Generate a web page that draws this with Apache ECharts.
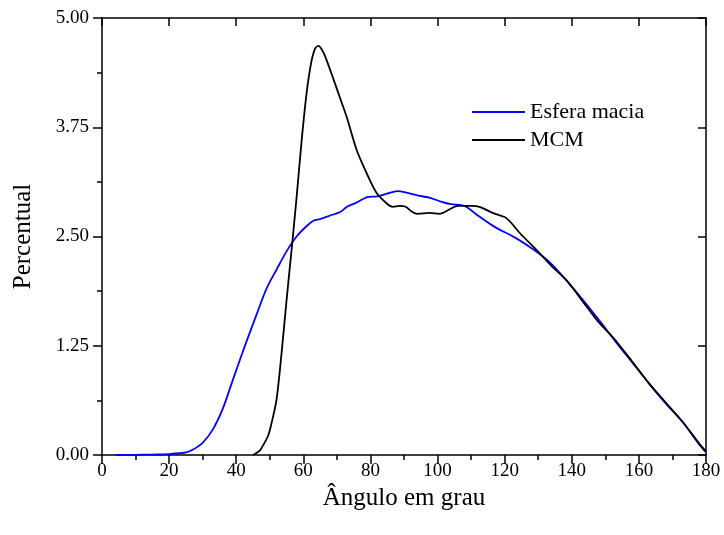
<!DOCTYPE html>
<html>
<head>
<meta charset="utf-8">
<script src="https://cdn.jsdelivr.net/npm/echarts@6/dist/echarts.min.js"></script>
<style>
    html, body { margin: 0; padding: 0; background: #fff; }
    #chart { width: 724px; height: 535px; }
</style>
</head>
<body>
<div id="chart"></div>
<script>

// Data
// ------------------------------

var anguloEsfera = [4, 10, 15, 20, 23, 25, 27, 30, 33, 36, 39, 42.5, 46, 49, 52, 55, 58, 61, 63, 65, 68, 71, 73, 76, 79, 82, 85, 88, 91, 94, 98, 101, 104, 108, 112, 117, 123, 129, 133, 136, 141, 148, 153, 158, 163, 168, 173, 178, 180];
var valoresEsfera = [0, 0.002, 0.005, 0.01, 0.02, 0.03, 0.06, 0.14, 0.29, 0.53, 0.86, 1.24, 1.6, 1.9, 2.12, 2.33, 2.5, 2.62, 2.68, 2.7, 2.74, 2.78, 2.84, 2.89, 2.95, 2.96, 2.99, 3.02, 3.0, 2.97, 2.94, 2.9, 2.87, 2.85, 2.74, 2.61, 2.49, 2.34, 2.22, 2.1, 1.88, 1.55, 1.3, 1.06, 0.82, 0.59, 0.38, 0.12, 0.03];

var anguloMCM = [45, 47, 48, 49.5, 50.5, 52, 53.5, 55, 56.5, 58, 59.5, 61, 62.4, 63.5, 64.5, 65.5, 66.5, 68.7, 70.8, 72.9, 75.9, 78.8, 81.8, 84.8, 86.6, 88.7, 90.5, 92.5, 94, 97.6, 100.6, 103.6, 106, 110, 112.5, 116.4, 120.5, 124.5, 130.4, 134, 138.4, 144.4, 148, 152.2, 158, 163, 168, 173, 178, 180];
var valoresMCM = [0, 0.05, 0.11, 0.22, 0.36, 0.63, 1.16, 1.77, 2.35, 2.95, 3.6, 4.15, 4.5, 4.65, 4.68, 4.64, 4.56, 4.33, 4.1, 3.87, 3.49, 3.23, 3.0, 2.88, 2.84, 2.85, 2.84, 2.78, 2.76, 2.77, 2.76, 2.81, 2.85, 2.85, 2.84, 2.77, 2.71, 2.54, 2.31, 2.16, 2.0, 1.7, 1.52, 1.35, 1.07, 0.82, 0.6, 0.38, 0.13, 0.04];

var nomesSeries = ['Esfera macia', 'MCM'];

function pares(xs, ys) {
    var out = [];
    for (var i = 0; i < xs.length; i++) {
        out.push([xs[i], ys[i]]);
    }
    return out;
}

var fonte = '"Liberation Serif", "Times New Roman", serif';
var chart = echarts.init(document.getElementById('chart'));

// Axis styling shared by the frame
var linhaEixo = { show: true, onZero: false, lineStyle: { color: '#000', width: 1.5 } };

chart.setOption({
    animation: false,
    color: ['#0000ff', '#000000'],
    textStyle: { fontFamily: fonte },
    grid: { left: 102, right: 18, top: 18, bottom: 80 },

    legend: {
        data: [
            { name: nomesSeries[0], icon: 'rect' },
            { name: nomesSeries[1], icon: 'rect' }
        ],
        orient: 'vertical',
        left: 467,
        top: 96,
        itemWidth: 53,
        itemHeight: 2,
        itemGap: 6,
        textStyle: { fontFamily: fonte, fontSize: 22, color: '#000' }
    },

    xAxis: [{
        type: 'value',
        min: 0,
        max: 180,
        interval: 20,
        name: 'Ângulo em grau',
        nameLocation: 'middle',
        nameGap: 21,
        nameTextStyle: { fontFamily: fonte, fontSize: 25, color: '#000' },
        axisLine: linhaEixo,
        axisTick: { show: true, inside: false, length: 9, lineStyle: { color: '#000', width: 1.5 } },
        minorTick: { show: true, splitNumber: 2, length: 5, lineStyle: { color: '#000', width: 1.5 } },
        axisLabel: { fontFamily: fonte, fontSize: 19, color: '#000', margin: 7 },
        splitLine: { show: false }
    }, {
        type: 'value',
        position: 'top',
        min: 0,
        max: 180,
        interval: 20,
        axisLine: linhaEixo,
        axisTick: { show: true, inside: true, length: 8, lineStyle: { color: '#000', width: 1.5 } },
        axisLabel: { show: false },
        splitLine: { show: false }
    }],

    yAxis: [{
        type: 'value',
        min: 0,
        max: 5,
        interval: 1.25,
        name: 'Percentual',
        nameLocation: 'middle',
        nameGap: 66,
        nameTextStyle: { fontFamily: fonte, fontSize: 25, color: '#000' },
        axisLine: linhaEixo,
        axisTick: { show: true, inside: false, length: 9, lineStyle: { color: '#000', width: 1.5 } },
        minorTick: { show: true, splitNumber: 2, length: 5, lineStyle: { color: '#000', width: 1.5 } },
        axisLabel: {
            fontFamily: fonte,
            fontSize: 19,
            color: '#000',
            margin: 13,
            formatter: function(v) { return v.toFixed(2); }
        },
        splitLine: { show: false }
    }, {
        type: 'value',
        position: 'right',
        min: 0,
        max: 5,
        interval: 1.25,
        axisLine: linhaEixo,
        axisTick: { show: true, inside: true, length: 8, lineStyle: { color: '#000', width: 1.5 } },
        axisLabel: { show: false },
        splitLine: { show: false }
    }],

    series: [{
        name: nomesSeries[0],
        type: 'line',
        data: pares(anguloEsfera, valoresEsfera),
        smooth: 0.3,
        symbol: 'none',
        lineStyle: { color: '#0000ff', width: 1.8 }
    }, {
        name: nomesSeries[1],
        type: 'line',
        data: pares(anguloMCM, valoresMCM),
        smooth: 0.3,
        symbol: 'none',
        lineStyle: { color: '#000000', width: 1.8 }
    }]
});
</script>
</body>
</html>
